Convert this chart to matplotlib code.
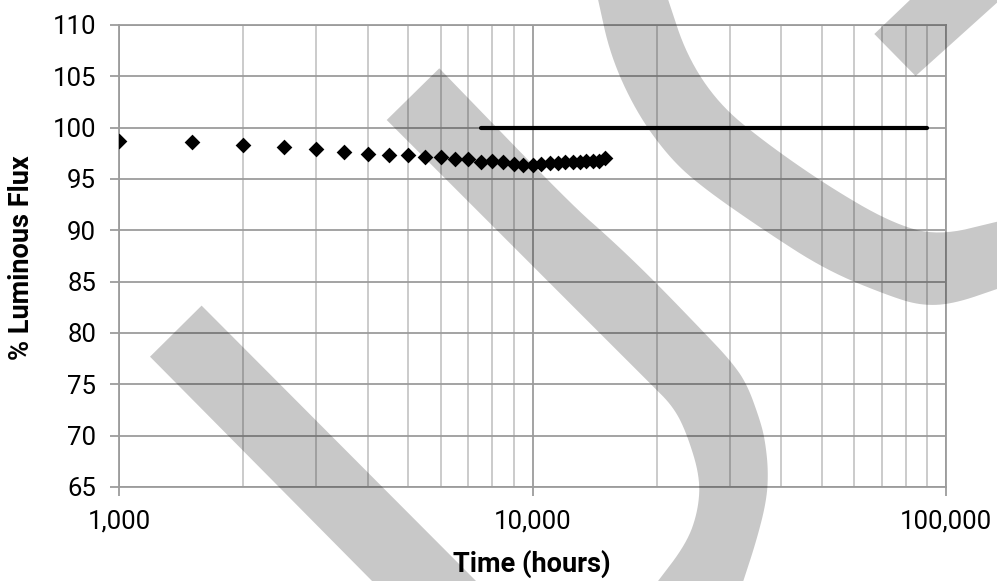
import matplotlib
matplotlib.use("Agg")
import matplotlib.pyplot as plt
import matplotlib.ticker as mticker
from matplotlib.patches import Polygon
from matplotlib.transforms import Affine2D
import numpy as np

# Mesures (heures, % flux lumineux)
hours = [1000, 1500, 2000, 2500, 3000, 3500, 4000, 4500, 5000, 5500,
         6000, 6500, 7000, 7500, 8000, 8500, 9000, 9500, 10000, 10500,
         11000, 11500, 12000, 12500, 13000, 13500, 14000, 14500, 15000]
flux = [98.7, 98.6, 98.3, 98.1, 97.9, 97.65, 97.45, 97.35, 97.35, 97.1,
        97.15, 96.9, 96.9, 96.7, 96.75, 96.7, 96.5, 96.4, 96.35, 96.5,
        96.6, 96.55, 96.65, 96.7, 96.7, 96.75, 96.8, 96.8, 97.0]

# Projection
proj_hours = [7500, 90000]
proj_flux = [100, 100]

yticks = [65, 70, 75, 80, 85, 90, 95, 100, 105, 110]

W, H = 997, 581
fig = plt.figure(figsize=(W / 100, H / 100), dpi=100)
ax = fig.add_axes([119 / W, (H - 487) / H, 827 / W, 462 / H])

ax.scatter(hours, flux, marker="D", s=64, color="black", zorder=3, linewidths=0)
ax.plot(proj_hours, proj_flux, color="black", lw=3.0, solid_capstyle="round", zorder=3)

ax.set_xscale("log")
ax.set_xlim(1000, 100000)
ax.set_ylim(65, 110)
ax.set_yticks(yticks)
ax.xaxis.set_major_formatter(mticker.FuncFormatter(lambda v, p: f"{v:,.0f}"))
ax.xaxis.set_minor_locator(mticker.LogLocator(base=10, subs=range(2, 10)))
ax.xaxis.set_minor_formatter(mticker.NullFormatter())

grid_major = "#9c9c9c"
ax.grid(which="major", color=grid_major, lw=1.3)
ax.grid(which="minor", axis="x", color="#bdbdbd", lw=1.1)
ax.set_axisbelow(True)
for s in ax.spines.values():
    s.set_color(grid_major)
    s.set_linewidth(1.3)

ax.tick_params(axis="both", which="major", length=6.5, width=1.3, color=grid_major,
               labelsize=18.5, pad=10)
ax.tick_params(axis="x", which="minor", length=0)
for lab in ax.get_xticklabels() + ax.get_yticklabels():
    lab.set_family("Roboto")

fig.text(22 / W, 1 - 258 / H, "% Luminous Flux", rotation=90, ha="center", va="center",
         fontsize=19.5, fontweight="bold", family="Roboto")
fig.text(532 / W, 1 - 564 / H, "Time (hours)", ha="center", va="center",
         fontsize=19.5, fontweight="bold", family="Roboto")


# Filigrane gris (coordonnées en pixels, origine en haut à gauche)
def smooth(pts, n=3):
    pts = np.asarray(pts, float)
    for _ in range(n):
        q = 0.75 * pts[:-1] + 0.25 * pts[1:]
        r = 0.25 * pts[:-1] + 0.75 * pts[1:]
        mid = np.empty((2 * len(q), 2))
        mid[0::2], mid[1::2] = q, r
        pts = np.vstack([pts[:1], mid, pts[-1:]])
    return pts


px = Affine2D().scale(1 / W, -1 / H).translate(0, 1) + fig.transFigure

band_a = [(150, 356.7), (201.6, 305.6), (480, 585), (376, 585)]

b_right = smooth([(439.3, 68.3), (570, 203.3), (611.7, 240), (653.3, 280), (703.3, 331.7),
                  (730, 360), (746.7, 383.3), (760, 420), (765, 440), (768.3, 470),
                  (766.7, 500), (756.7, 540), (742, 585)])
b_left = smooth([(655, 585), (686.7, 543.3), (698.3, 510), (700, 476.7), (686.7, 433.3),
                 (673.3, 406.7), (650, 383.3), (598.3, 331.7), (540, 273.3), (386.7, 120)])
band_b = np.vstack([[(386.7, 120)], b_right, b_left])

c_outer = smooth([(597.7, -2), (610.4, 55.6), (635.8, 111.2), (667.6, 155.6), (699.4, 185.2),
                  (763, 229.7), (826.6, 270.5), (890.2, 296.4), (922, 305.7), (953.8, 303.8),
                  (1000, 288)])
c_inner = smooth([(1000, 221), (937.9, 236), (890.2, 222.3), (826.6, 185.2), (763, 140.8),
                  (718.5, 103.7), (686.7, 55.6), (667.6, -2)])
band_c = np.vstack([c_outer, c_inner])

band_d = [(874.3, 34), (912, -2), (1000, -2), (1000, 0), (915.6, 76)]

for shape in (band_a, band_b, band_c, band_d):
    fig.add_artist(Polygon(shape, closed=True, transform=px, facecolor="black",
                           edgecolor="none", alpha=0.215, zorder=5))

fig.savefig("out.png", dpi=100)
